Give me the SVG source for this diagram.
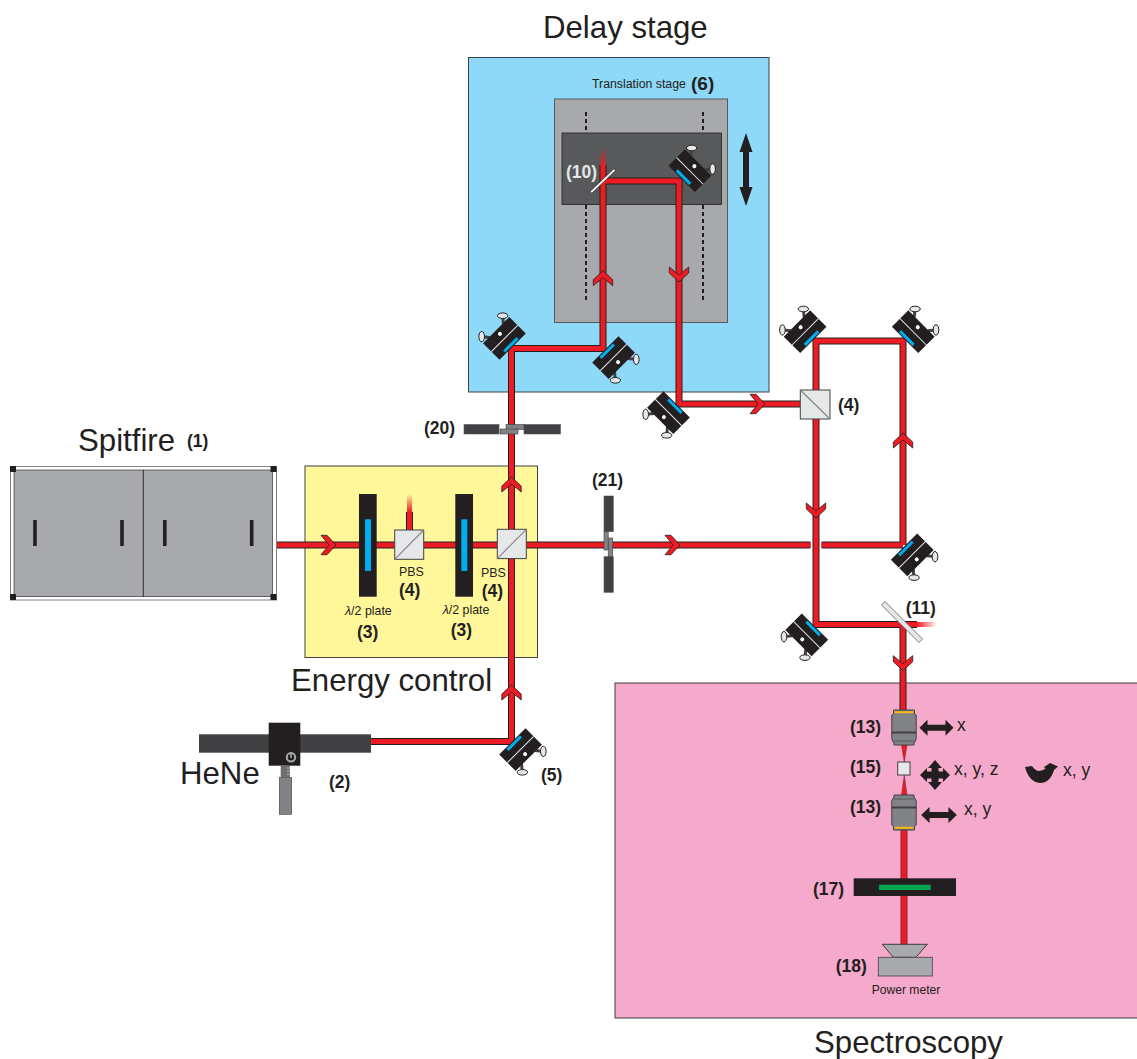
<svg xmlns="http://www.w3.org/2000/svg" width="1137" height="1059" viewBox="0 0 1137 1059">
<style>
text{font-family:"Liberation Sans",Arial,sans-serif;fill:#231f20}
.t{font-size:31.2px}
.n{font-size:17.5px;font-weight:bold}
.s{font-size:12.4px}
.a{font-size:17.5px}
.o{fill:none;stroke:#231f20;stroke-width:7}
.r{fill:none;stroke:#ed1c24;stroke-width:5}
.panel{stroke:#414042;stroke-width:1}
.cube{fill:#e6e7e8;stroke:#414042;stroke-width:1}
.diag{stroke:#808285;stroke-width:1.1}
.dash{stroke:#231f20;stroke-width:2;stroke-dasharray:4 3;fill:none}
.dk{fill:#414042;stroke:#58595b;stroke-width:.6}
.md{fill:#808285;stroke:#414042;stroke-width:.6}
.blk{fill:#231f20}
</style>
<defs>
<linearGradient id="fadeUp" x1="0" y1="0" x2="0" y2="1"><stop offset="0" stop-color="#ed1c24" stop-opacity="0"/><stop offset="1" stop-color="#ed1c24"/></linearGradient>
<linearGradient id="fadeRight" x1="0" y1="0" x2="1" y2="0"><stop offset="0" stop-color="#ed1c24"/><stop offset="1" stop-color="#ed1c24" stop-opacity="0"/></linearGradient>
<polygon id="chev" points="0,0 -9,9.7 -15,9.7 -7,0 -15,-9.7 -9,-9.7" fill="#ed1c24" stroke="#231f20" stroke-width=".8"/>
<g id="mount">
<g stroke="#414042" stroke-width="3"><line x1="9.500" y1="-6" x2="14.500" y2="-12"/><line x1="-9.500" y1="-6" x2="-14.500" y2="-12"/></g>
<ellipse cx="14.800" cy="-12.500" rx="5.200" ry="2.800" transform="rotate(45 14.800 -12.500)" fill="#e6e7e8" stroke="#231f20" stroke-width="1"/>
<ellipse cx="-14.800" cy="-12.500" rx="5.200" ry="2.800" transform="rotate(-45 -14.800 -12.500)" fill="#e6e7e8" stroke="#231f20" stroke-width="1"/>
<polygon class="blk" points="-18.600,16.500 18.600,16.500 18.600,-6.800 -18.600,-6.800"/>
<line x1="-18.600" y1="5" x2="18.600" y2="5" stroke="#e6e7e8" stroke-width="1"/>
<circle cx="0" cy="-1.500" r="2" fill="#fff"/>
<rect x="-9.500" y="12.400" width="19" height="3" fill="#00aeef"/>
</g>
<g id="objective">
<path d="M-10.500-17.500H10.500V-14L12.200-12.500V12L10 15.500V17.500H-10V15.500L-12.200 12V-12.500L-10.500-14Z" fill="#808285" stroke="#414042" stroke-width="1"/>
<rect x="-9.500" y="-16.300" width="19" height="2" fill="#fdb913"/>
<rect x="-12.200" y="4" width="24.400" height="2" fill="#414042"/>
<rect x="-10" y="13" width="20" height="1" fill="#58595b"/>
</g>
<polygon id="dbl" points="-17,0 -9,-8 -9,-3 9,-3 9,-8 17,0 9,8 9,3 -9,3 -9,8" class="blk"/>
</defs>

<g id="delay-stage">
<rect class="panel" x="468.500" y="57.500" width="300.500" height="334.500" fill="#8ed8f8"/>
<text class="t" x="543" y="38">Delay stage</text>
</g>
<g id="energy-control">
<rect class="panel" x="305" y="466" width="232.500" height="191.500" fill="#fff799"/>
<text class="t" x="291" y="691">Energy control</text>
</g>
<g id="spectroscopy">
<rect class="panel" x="615" y="683" width="523" height="335" fill="#f5a9cb"/>
<text class="t" x="814" y="1053">Spectroscopy</text>
</g>
<g id="translation-stage">
<rect x="554.500" y="99" width="173" height="223.500" fill="#a7a9ac" stroke="#58595b"/>
<rect x="562" y="133" width="159.500" height="71.500" fill="#58595b" stroke="#231f20" stroke-width=".8"/>
<path class="dash" d="M586 112V133M703 112V133M586 205V300M703 205V300"/>
<polygon class="blk" points="746,133 752.500,152 749,152 749,187 752.500,187 746,206 739.500,187 743,187 743,152 739.500,152"/>
<text x="592" y="88" style="font-size:12.300px">Translation stage</text>
<text x="691" y="90" class="n" style="font-size:19px">(6)</text>
</g>

<g id="connectors">
<path class="o" d="M275 545H810.500M821.500 545H903M511.500 741.500V348.500H603V165M603 181H679V404H800M816 390V341H903V545M816 419V624.500H903V710M371 741.500H511.500M904 624.500H917M409.500 530V512"/>
<path d="M904 828V945" fill="none" stroke="#7a2b3e" stroke-width="7"/>
<path class="r" d="M275 545H810.500M821.500 545H903M511.500 741.500V348.500H603V165M603 181H679V404H800M816 390V341H903V545M816 419V624.500H903V710M371 741.500H511.500M904 828V945M904 624.500H917M409.500 530V512"/>
<rect x="600.500" y="148" width="5" height="18" fill="url(#fadeUp)"/>
<rect x="407" y="494" width="5" height="18" fill="url(#fadeUp)"/>
<rect x="917" y="622" width="20" height="5" fill="url(#fadeRight)"/>
<polygon points="901.500,745 907,745 904.300,762" fill="#ed1c24" stroke="#7a2b3e" stroke-width=".6"/>
<polygon points="904.300,775 901.500,795 907,795" fill="#ed1c24" stroke="#7a2b3e" stroke-width=".6"/>
<use href="#chev" transform="translate(336 545)"/>
<use href="#chev" transform="translate(680 545)"/>
<use href="#chev" transform="translate(765 404)"/>
<use href="#chev" transform="translate(511.500 477) rotate(-90)"/>
<use href="#chev" transform="translate(511.500 685) rotate(-90)"/>
<use href="#chev" transform="translate(603 270.700) rotate(-90)"/>
<use href="#chev" transform="translate(679 282) rotate(90)"/>
<use href="#chev" transform="translate(816 518) rotate(90)"/>
<use href="#chev" transform="translate(903 433) rotate(-90)"/>
<use href="#chev" transform="translate(903 670.700) rotate(90)"/>
</g>

<g id="spitfire">
<rect x="10.500" y="466.500" width="266" height="133.500" fill="#fff" stroke="#808285"/>
<rect x="14" y="470" width="258.700" height="126.700" fill="#a7a9ac" stroke="#231f20" stroke-width=".6"/>
<line x1="143.300" y1="470" x2="143.300" y2="597" stroke="#231f20" stroke-width=".9"/>
<path class="blk" d="M10 466h6v6h-6zM270.500 466h6v6h-6zM10 594h6v6h-6zM270.500 594h6v6h-6z"/>
<path class="blk" d="M33.200 520h3.600v26h-3.600zM120.200 520h3.600v26h-3.600zM163 520h3.600v26h-3.600zM249.900 520h3.600v26h-3.600z"/>
<text class="t" x="78" y="451">Spitfire</text>
<text class="n" x="187" y="447">(1)</text>
</g>
<g id="hene">
<rect x="199" y="734.300" width="172" height="18.400" fill="#414042"/>
<rect x="268.700" y="722.700" width="31.600" height="43" class="blk"/>
<circle cx="291" cy="757.300" r="4.200" fill="none" stroke="#a7a9ac" stroke-width="2"/>
<line x1="291" y1="752" x2="291" y2="758" stroke="#a7a9ac" stroke-width="1.600"/>
<rect x="280.700" y="765.700" width="9.300" height="11.600" fill="#6d6e71"/>
<path d="M287 768h3M287 771h3M287 774h3" stroke="#d1d3d4" stroke-width=".7"/>
<rect x="279.300" y="777.300" width="12.400" height="37" class="md"/>
<text class="t" x="180" y="784">HeNe</text>
<text class="n" x="329" y="788">(2)</text>
</g>
<g id="plate-1">
<rect x="359" y="494" width="17.700" height="102.700" class="blk"/>
<rect x="365" y="519.300" width="6" height="51.700" fill="#00aeef"/>
<text class="s" x="345" y="615"><tspan font-style="italic">λ</tspan>/2 plate</text>
<text class="n" x="357" y="637.700">(3)</text>
</g>
<g id="plate-2">
<rect x="455.300" y="494" width="17.700" height="102.700" class="blk"/>
<rect x="461.300" y="519.300" width="6" height="51.700" fill="#00aeef"/>
<text class="s" x="442.700" y="614"><tspan font-style="italic">λ</tspan>/2 plate</text>
<text class="n" x="450.700" y="635.700">(3)</text>
</g>
<g id="pbs-1">
<rect x="394.700" y="530" width="29" height="29.300" class="cube"/>
<line class="diag" x1="394.700" y1="559.300" x2="423.700" y2="530"/>
<text class="s" x="399" y="576">PBS</text>
<text class="n" x="399" y="596">(4)</text>
</g>
<g id="pbs-2">
<rect x="497.300" y="529.300" width="29" height="29.300" class="cube"/>
<line class="diag" x1="497.300" y1="558.600" x2="526.300" y2="529.300"/>
<text class="s" x="481" y="576.700">PBS</text>
<text class="n" x="481.700" y="596.700">(4)</text>
</g>
<g id="bs-4">
<rect x="800.300" y="390" width="29.700" height="29" class="cube"/>
<line class="diag" x1="800.300" y1="390" x2="830" y2="419"/>
<text class="n" x="838" y="410.700">(4)</text>
</g>
<g id="chopper-20">
<rect x="464" y="424.500" width="35" height="9.500" class="dk"/>
<rect x="524" y="424.500" width="36.500" height="9.500" class="dk"/>
<rect x="506" y="424.500" width="18" height="5" class="md"/>
<rect x="500" y="429" width="18" height="5" class="md"/>
<text class="n" x="424" y="434">(20)</text>
</g>
<g id="chopper-21">
<rect x="604" y="496" width="9.300" height="35.700" class="dk"/>
<rect x="604" y="556.700" width="9.300" height="35.600" class="dk"/>
<rect x="604" y="531.700" width="4.200" height="18.300" class="md"/>
<rect x="608.200" y="538" width="4.500" height="18.700" class="md"/>
<text class="n" x="592" y="486">(21)</text>
</g>
<g id="mirror-a"><use href="#mount" transform="translate(501 335) rotate(-45)"/></g>
<g id="mirror-b"><use href="#mount" transform="translate(617 361) rotate(135)"/></g>
<g id="mirror-c"><use href="#mount" transform="translate(693.300 167.300) rotate(45)"/></g>
<g id="mirror-d"><use href="#mount" transform="translate(665 416) rotate(-135)"/></g>
<g id="mirror-5"><use href="#mount" transform="translate(524 753) rotate(135)"/><text class="n" x="541" y="781">(5)</text></g>
<g id="mirror-f"><use href="#mount" transform="translate(801.700 328.300) rotate(-45)"/></g>
<g id="mirror-g"><use href="#mount" transform="translate(916.700 328.300) rotate(45)"/></g>
<g id="mirror-h"><use href="#mount" transform="translate(915.700 558.300) rotate(135)"/></g>
<g id="mirror-i"><use href="#mount" transform="translate(803.300 638.300) rotate(-135)"/></g>
<g id="bs-10">
<line x1="590.700" y1="192.700" x2="615" y2="169.300" stroke="#414042" stroke-width="3"/>
<line x1="591.200" y1="192.200" x2="614.500" y2="169.800" stroke="#fff" stroke-width="1.800"/>
<text class="n" x="566" y="178" style="fill:#e6e7e8">(10)</text>
</g>
<g id="bs-11">
<polygon points="881.500,605 885,601.500 922.500,639 919,642.500" fill="#e6e7e8" stroke="#58595b" stroke-width=".8"/>
<text class="n" x="905.700" y="614">(11)</text>
</g>
<g id="objective-1">
<use href="#objective" transform="translate(904 727.500)"/>
<text class="n" x="850" y="733">(13)</text>
<use href="#dbl" transform="translate(936.500 727.700)"/>
<text class="a" x="957" y="731">x</text>
</g>
<g id="sample-15">
<rect x="897.700" y="762" width="12.300" height="13" class="cube"/>
<text class="n" x="850" y="773">(15)</text>
<polygon class="blk" points="935,760 942,768 938.500,768 938.500,771.500 943,771.500 943,768 950,775 943,782 943,778.500 938.500,778.500 938.500,782 942,782 935,790 928,782 931.500,782 931.500,778.500 927,778.500 927,782 920,775 927,768 927,771.500 931.500,771.500 931.500,768 928,768"/>
<text class="a" x="954" y="775">x, y, z</text>
<path class="blk" d="M1025 767L1032 766Q1038 775 1046 768L1043.500 767.500L1050 763L1058 766.500L1054 770Q1050 783 1040 783Q1029 782 1025 767Z"/>
<text class="a" x="1063" y="776">x, y</text>
</g>
<g id="objective-2">
<use href="#objective" transform="translate(904 812.500) scale(1 -1)"/>
<text class="n" x="850" y="812.700">(13)</text>
<use href="#dbl" transform="translate(939 815) scale(1.050 1)"/>
<text class="a" x="964" y="815">x, y</text>
</g>
<g id="filter-17">
<rect x="853.700" y="878.300" width="102.300" height="17.700" class="blk"/>
<rect x="879" y="884.700" width="51.700" height="5.300" fill="#00a651"/>
<text class="n" x="813" y="895">(17)</text>
</g>
<g id="power-meter-18">
<polygon points="882.300,944.300 927.300,944.300 916,957.300 893.300,957.300" fill="#a7a9ac" stroke="#231f20" stroke-width=".8"/>
<rect x="878.300" y="957.300" width="54" height="18.700" fill="#a7a9ac" stroke="#414042" stroke-width=".8"/>
<text class="n" x="835.700" y="972">(18)</text>
<text x="871.700" y="994" style="font-size:12.100px">Power meter</text>
</g>
</svg>
